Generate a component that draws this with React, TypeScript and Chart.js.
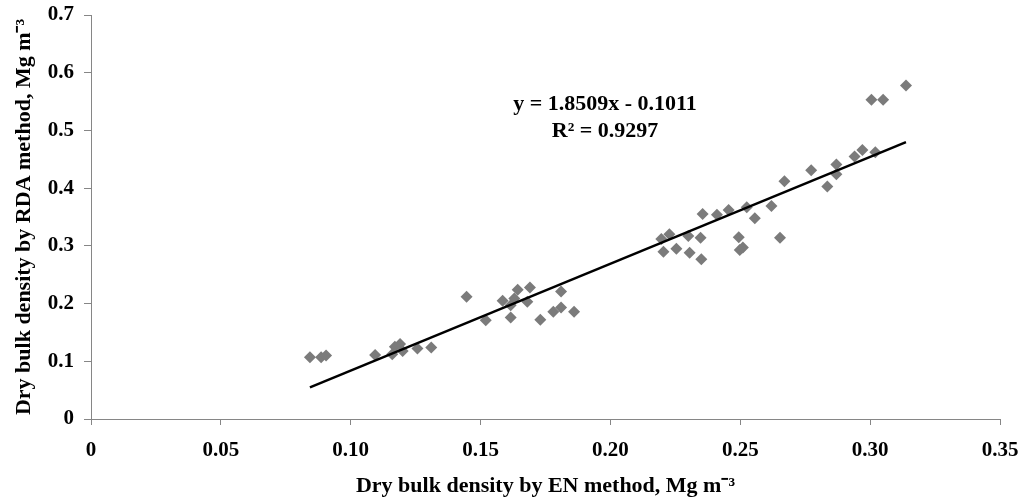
import React, { useEffect, useRef } from "react";
import { Chart, registerables } from "chart.js";

Chart.register(...registerables);

const enMethod = [
  0.0843, 0.0886, 0.0905, 0.1094, 0.116, 0.117, 0.119, 0.12, 0.1257, 0.131,
  0.1446, 0.152, 0.1585, 0.1616, 0.1616, 0.163, 0.1643, 0.168, 0.169, 0.173,
  0.178, 0.181, 0.181, 0.186, 0.2196, 0.2204, 0.2227, 0.2254, 0.23, 0.2305,
  0.2347, 0.235, 0.2355, 0.241, 0.2455, 0.2494, 0.2498, 0.251, 0.2525, 0.2556,
  0.262, 0.2653, 0.267, 0.2773, 0.2835, 0.287, 0.287, 0.294, 0.297, 0.302,
  0.3005, 0.305, 0.3138,
];
const rdaMethod = [
  0.107, 0.107, 0.11, 0.111, 0.112, 0.125, 0.13, 0.118, 0.122, 0.124,
  0.212, 0.171, 0.205, 0.197, 0.176, 0.209, 0.224, 0.203, 0.228, 0.172,
  0.186, 0.193, 0.221, 0.186, 0.312, 0.29, 0.32, 0.295, 0.317, 0.288,
  0.314, 0.277, 0.355, 0.354, 0.362, 0.315, 0.293, 0.297, 0.367, 0.348,
  0.369, 0.314, 0.412, 0.431, 0.403, 0.441, 0.424, 0.455, 0.466, 0.462,
  0.553, 0.553, 0.578,
];
const xTickLabels = ["0", "0.05", "0.10", "0.15", "0.20", "0.25", "0.30", "0.35"];
const yTickLabels = ["0", "0.1", "0.2", "0.3", "0.4", "0.5", "0.6", "0.7"];
const trendSlope = 1.8509;
const trendIntercept = -0.1011;
const equationLines = ["y = 1.8509x - 0.1011", "R\u00B2 = 0.9297"];
const xTitle = "Dry bulk density by EN method, Mg m\u207B\u00B3";
const yTitle = "Dry bulk density by RDA method, Mg m\u207B\u00B3";

const FONT = "'Liberation Serif', 'Times New Roman', serif";
const AXIS_GRAY = "#868686";

export default function App() {
  const ref = useRef<HTMLCanvasElement>(null);

  useEffect(() => {
    document.body.style.margin = "0";
    if (!ref.current) return;
    const points = enMethod.map((x, i) => ({ x, y: rdaMethod[i] }));
    const minX = Math.min(...enMethod);
    const maxX = Math.max(...enMethod);
    const trend = [minX, maxX].map((x) => ({ x, y: trendSlope * x + trendIntercept }));

    const equationPlugin = {
      id: "equation",
      afterDatasetsDraw(chart: any) {
        const { ctx, chartArea } = chart;
        const w = chartArea.right - chartArea.left;
        const h = chartArea.bottom - chartArea.top;
        const cx = chartArea.left + 0.5655 * w;
        ctx.save();
        ctx.font = `bold 22px ${FONT}`;
        ctx.fillStyle = "#000";
        ctx.textAlign = "center";
        ctx.textBaseline = "middle";
        ctx.fillText(equationLines[0], cx, chartArea.top + 0.22 * h);
        ctx.fillText(equationLines[1], cx, chartArea.top + 0.288 * h);
        ctx.restore();
      },
    };

    const chart = new Chart(ref.current, {
      type: "scatter",
      data: {
        datasets: [
          {
            label: "Linear",
            data: trend,
            showLine: true,
            borderColor: "#000",
            borderWidth: 2.5,
            pointRadius: 0,
            pointHoverRadius: 0,
          },
          {
            label: "Samples",
            data: points,
            pointStyle: "rectRot",
            pointRadius: 6,
            pointHoverRadius: 6,
            backgroundColor: "#7b7b7b",
            borderColor: "#7b7b7b",
            borderWidth: 0,
          },
        ],
      },
      options: {
        animation: false,
        responsive: true,
        maintainAspectRatio: false,
        layout: { padding: { top: 15, right: 22, left: 0, bottom: 0 } },
        plugins: {
          legend: { display: false },
          tooltip: { enabled: false },
        },
        scales: {
          x: {
            type: "linear",
            min: 0,
            max: 0.35,
            afterFit(scale: any) {
              scale.height = 83;
              scale.paddingRight = 0;
              scale.paddingLeft = 0;
            },
            ticks: {
              stepSize: 0.05,
              padding: 13,
              color: "#000",
              font: { family: FONT, size: 21, weight: "bold" },
              callback: (v: any) => xTickLabels[Math.round(Number(v) / 0.05)] ?? "",
            },
            grid: {
              display: true,
              drawOnChartArea: false,
              drawTicks: true,
              tickLength: 6,
              color: AXIS_GRAY,
            },
            border: { display: true, color: AXIS_GRAY, width: 1 },
            title: {
              display: true,
              text: xTitle,
              color: "#000",
              font: { family: FONT, size: 22, weight: "bold", lineHeight: 1 },
              padding: { top: 0, bottom: 5 },
            },
          },
          y: {
            type: "linear",
            min: 0,
            max: 0.7,
            afterFit(scale: any) {
              scale.width = 91;
              scale.paddingTop = 0;
              scale.paddingBottom = 0;
            },
            ticks: {
              stepSize: 0.1,
              padding: 10,
              color: "#000",
              font: { family: FONT, size: 21, weight: "bold" },
              callback: (v: any) => yTickLabels[Math.round(Number(v) / 0.1)] ?? "",
            },
            grid: {
              display: true,
              drawOnChartArea: false,
              drawTicks: true,
              tickLength: 7,
              color: AXIS_GRAY,
            },
            border: { display: true, color: AXIS_GRAY, width: 1 },
            title: {
              display: true,
              text: yTitle,
              color: "#000",
              font: { family: FONT, size: 22, weight: "bold", lineHeight: 1 },
              padding: { top: 13, bottom: 0 },
            },
          },
        },
      },
      plugins: [equationPlugin],
    });
    return () => chart.destroy();
  }, []);

  return (
    <div style={{ position: "relative", width: 1022, height: 502 }}>
      <canvas ref={ref} />
    </div>
  );
}
